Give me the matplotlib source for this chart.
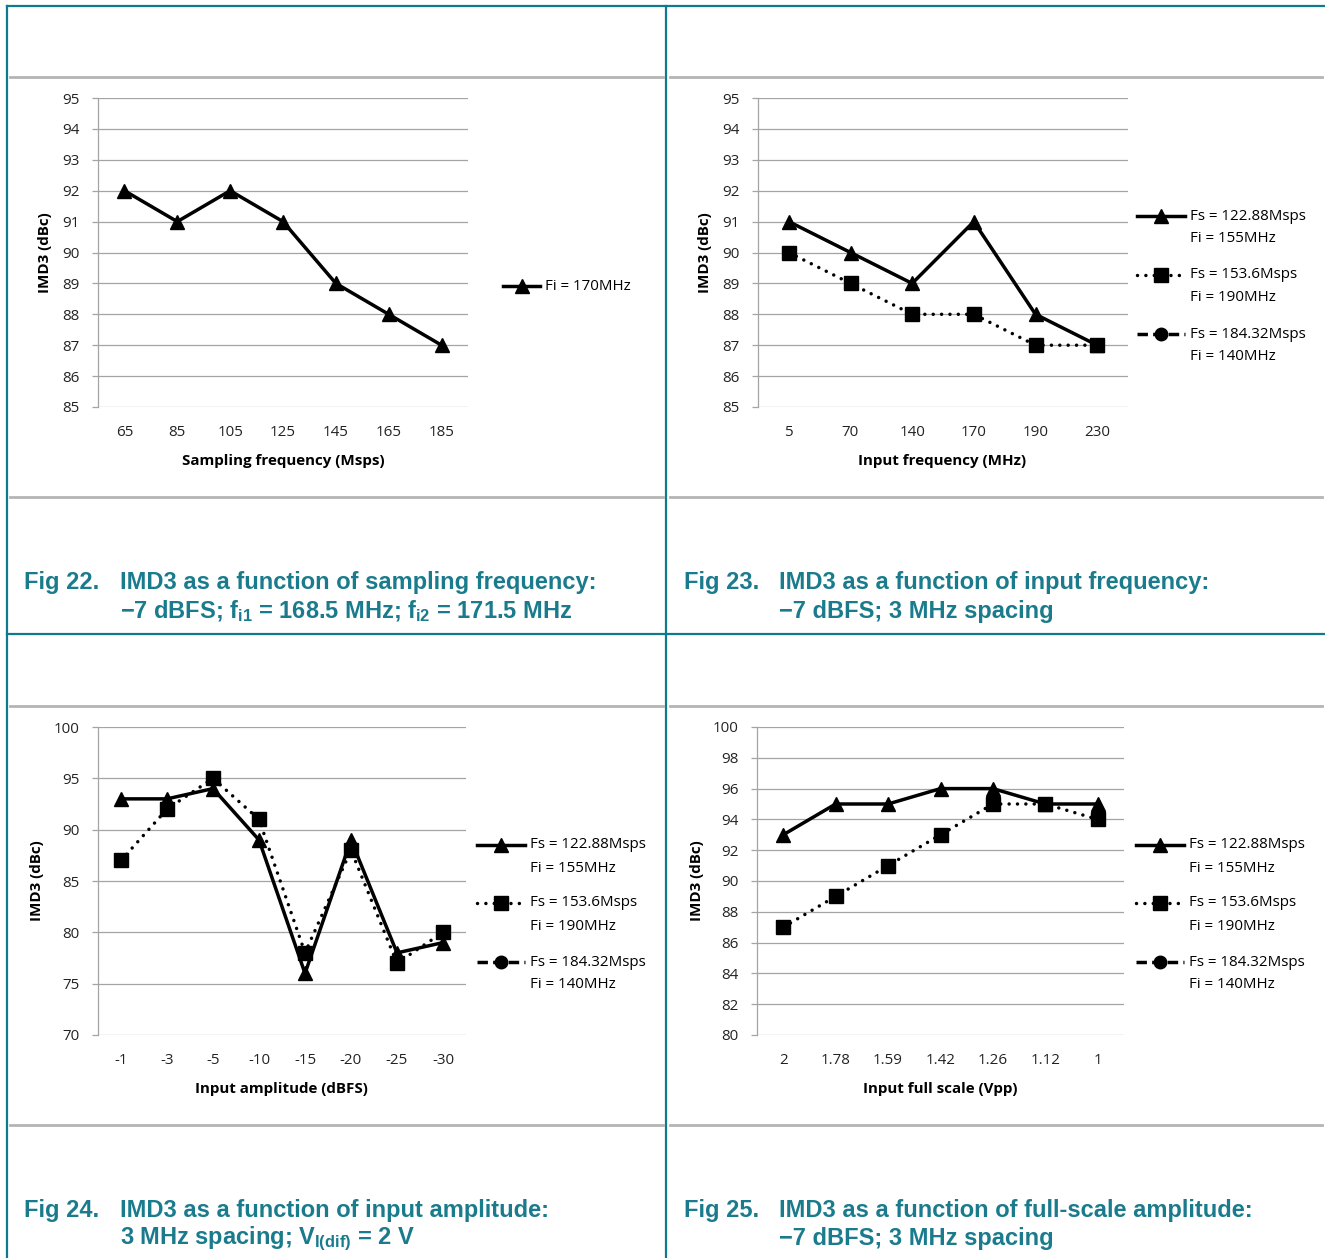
import matplotlib
matplotlib.use('Agg')
import matplotlib.pyplot as plt
from matplotlib.lines import Line2D

W, H = 1325, 1258

# Fig 22: IMD3 vs sampling frequency
fs_labels = ['65', '85', '105', '125', '145', '165', '185']
imd3_fs = [92, 91, 92, 91, 89, 88, 87]

# Fig 23: IMD3 vs input frequency
fin_labels = ['5', '70', '140', '170', '190', '230']
imd3_fin_122 = [91, 90, 89, 91, 88, 87]
imd3_fin_153 = [90, 89, 88, 88, 87, 87]

# Fig 24: IMD3 vs input amplitude
amp_labels = ['-1', '-3', '-5', '-10', '-15', '-20', '-25', '-30']
imd3_amp_122 = [93, 93, 94, 89, 76, 89, 78, 79]
imd3_amp_153 = [87, 92, 95, 91, 78, 88, 77, 80]

# Fig 25: IMD3 vs full-scale amplitude
vfs_labels = ['2', '1.78', '1.59', '1.42', '1.26', '1.12', '1']
imd3_vfs_122 = [93, 95, 95, 96, 96, 95, 95]
imd3_vfs_153 = [87, 89, 91, 93, 95, 95, 94]

series_names = ['Fs = 122.88Msps\nFi = 155MHz',
                'Fs = 153.6Msps\nFi = 190MHz',
                'Fs = 184.32Msps\nFi = 140MHz']

TEAL = '#0e7a8d'
TEXT_TEAL = '#1a7b8c'
GRID = '#a4a4a4'
FS = 10.9

plt.rcParams['font.family'] = ['Open Sans', 'DejaVu Sans']
plt.rcParams['mathtext.fontset'] = 'custom'
plt.rcParams['mathtext.rm'] = 'Liberation Sans:bold'
plt.rcParams['mathtext.it'] = 'Liberation Sans:bold'
plt.rcParams['mathtext.bf'] = 'Liberation Sans:bold'

STYLES = [
    dict(color='black', lw=2.5, ls='-', marker='^', ms=10.5),
    dict(color='black', lw=2.5, ls=(0, (0.01, 2.4)), dash_capstyle='round',
         marker='s', ms=9.5),
    dict(color='black', lw=2.5, ls=(0, (3.0, 1.5)), marker='o', ms=9),
]

fig = plt.figure(figsize=(W / 100, H / 100), dpi=100)


def fx(x):
    return x / W


def fy(y):
    return 1 - y / H


def hline(x0, x1, y, color, lw):
    fig.add_artist(Line2D([fx(x0), fx(x1)], [fy(y), fy(y)], color=color,
                          lw=lw, transform=fig.transFigure))


def vline(x, y0, y1, color, lw):
    fig.add_artist(Line2D([fx(x), fx(x)], [fy(y0), fy(y1)], color=color,
                          lw=lw, transform=fig.transFigure))


def panel(box, labels, series, ylim, ystep, xlabel, xlabel_pos, ylabel_x):
    l, t, r, b = box
    ax = fig.add_axes([fx(l), fy(b), fx(r) - fx(l), fy(t) - fy(b)])
    x = list(range(len(labels)))
    for vals, st in series:
        ax.plot(x, vals, clip_on=False, zorder=3, **st)
    ax.set_xlim(-0.5, len(labels) - 0.5)
    ax.set_ylim(*ylim)
    ax.set_yticks(range(ylim[0], ylim[1] + 1, ystep))
    ax.set_xticks(x, labels)
    ax.yaxis.grid(True, color=GRID, lw=0.9)
    ax.set_axisbelow(True)
    for s in ['top', 'right', 'bottom']:
        ax.spines[s].set_visible(False)
    ax.spines['left'].set_color(GRID)
    ax.spines['left'].set_linewidth(0.9)
    ax.tick_params(axis='y', length=4, color=GRID, width=0.9, pad=9,
                   labelsize=FS, labelcolor='#222222')
    ax.tick_params(axis='x', length=0, pad=13, labelsize=FS,
                   labelcolor='#222222')
    fig.text(fx(xlabel_pos[0]), fy(xlabel_pos[1]), xlabel, ha='center',
             va='center', fontsize=FS, fontweight='bold')
    fig.text(fx(ylabel_x), fy((t + b) / 2), 'IMD3 (dBc)', rotation=90,
             ha='center', va='center', fontsize=FS, fontweight='bold')
    return ax


def legend_entry(x0, x1, y, style, text, gap=23):
    st = dict(style)
    marker = st.pop('marker')
    ms = st.pop('ms')
    fig.add_artist(Line2D([fx(x0), fx(x1)], [fy(y), fy(y)],
                          transform=fig.transFigure, **st))
    fig.add_artist(Line2D([fx((x0 + x1) / 2)], [fy(y)], marker=marker, ms=ms,
                          color='black', ls='none', transform=fig.transFigure))
    for i, line in enumerate(text.split('\n')):
        fig.text(fx(x1 + 5), fy(y + i * gap), line, ha='left', va='center',
                 fontsize=FS)


# frame and cell separators
vline(7, 6, H, TEAL, 1.6)
vline(666, 6, H, TEAL, 1.6)
hline(7, W, 6, TEAL, 1.6)
hline(7, W, 634, TEAL, 1.6)
for y in [77, 497, 706, 1125]:
    hline(10, 663, y, '#b4b4b4', 2.0)
    hline(670, 1322, y, '#b4b4b4', 2.0)

# Fig 22
panel((98, 98, 468, 407), fs_labels, [(imd3_fs, STYLES[0])], (85, 95), 1,
      'Sampling frequency (Msps)', (283, 461), 45)
legend_entry(503, 540, 286, STYLES[0], 'Fi = 170MHz')

# Fig 23
panel((758, 98, 1128, 407), fin_labels,
      [(imd3_fin_122, STYLES[0]), (imd3_fin_153, STYLES[1])], (85, 95), 1,
      'Input frequency (MHz)', (942, 461), 705)
for i, y in enumerate([216, 275, 334]):
    legend_entry(1137, 1185, y, STYLES[i], series_names[i])

# Fig 24
panel((98, 727, 466, 1035), amp_labels,
      [(imd3_amp_122, STYLES[0]), (imd3_amp_153, STYLES[1])], (70, 100), 5,
      'Input amplitude (dBFS)', (281, 1089), 37)
for i, y in enumerate([845, 903, 962]):
    legend_entry(477, 525, y, STYLES[i], series_names[i])

# Fig 25
panel((757, 727, 1124, 1035), vfs_labels,
      [(imd3_vfs_122, STYLES[0]), (imd3_vfs_153, STYLES[1])], (80, 100), 2,
      'Input full scale (Vpp)', (940, 1089), 697)
for i, y in enumerate([845, 903, 962]):
    legend_entry(1136, 1184, y, STYLES[i], series_names[i])

# captions
captions = [
    (24, 120, 582, 'Fig 22.', 'IMD3 as a function of sampling frequency:',
     '\u22127 dBFS; $f_{i1}$ = 168.5 MHz; $f_{i2}$ = 171.5 MHz'),
    (684, 779, 582, 'Fig 23.', 'IMD3 as a function of input frequency:',
     '\u22127 dBFS; 3 MHz spacing'),
    (24, 120, 1210, 'Fig 24.', 'IMD3 as a function of input amplitude:',
     '3 MHz spacing; $V_{I(dif)}$ = 2 V'),
    (684, 779, 1210, 'Fig 25.', 'IMD3 as a function of full-scale amplitude:',
     '\u22127 dBFS; 3 MHz spacing'),
]
cap_kw = dict(fontfamily='Liberation Sans', fontweight='bold', fontsize=17,
              color=TEXT_TEAL, ha='left', va='center')
for xn, xt, y, num, line1, line2 in captions:
    fig.text(fx(xn), fy(y), num, **cap_kw)
    fig.text(fx(xt), fy(y), line1, **cap_kw)
    fig.text(fx(xt), fy(y + 29), line2, **cap_kw)

fig.savefig('out.png', dpi=100)
